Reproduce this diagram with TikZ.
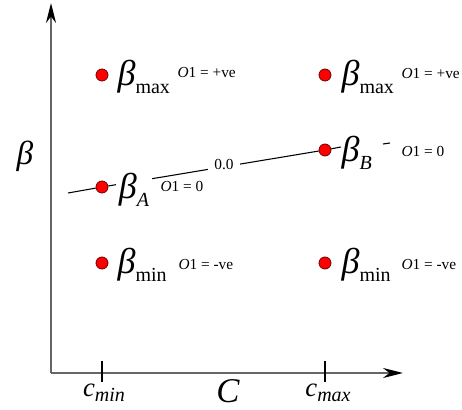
\documentclass[tikz,border=0pt]{standalone}
\usepackage{fontspec}
\setmainfont{Liberation Serif}
\usetikzlibrary{arrows.meta,positioning,backgrounds}
\newcommand{\bsym}[1]{{\itshape β}\raisebox{-6pt}{\fontsize{15}{17}\selectfont #1}}

\begin{document}
\begin{tikzpicture}[x=0.75pt,y=-0.75pt,
  dot/.style={circle,draw=red!45!black,fill=red,line width=0.6pt,minimum size=9pt,inner sep=0pt},
  blbl/.style={inner sep=1pt,font=\fontsize{27}{30}\selectfont},
  olbl/.style={inner sep=1pt,font=\fontsize{11.5}{13}\selectfont},
  axis/.style={line width=1.3pt,draw=black!60,-{Stealth[length=15pt,width=7.5pt,color=black]}}]

\useasboundingbox (0,0) rectangle (462,410);

% axes
\coordinate (orig) at (51,373);
\coordinate (ytop) at (51,3);
\coordinate (xend) at (403,373);
\draw[axis] (orig) -- (ytop);
\draw[axis] (orig) -- (xend);

\coordinate (tmin) at (102,373);
\coordinate (tmax) at (325,373);
\draw[line width=0.8pt] ([yshift=9pt]tmin) -- ([yshift=-7pt]tmin);
\draw[line width=0.8pt] ([yshift=9pt]tmax) -- ([yshift=-7pt]tmax);

\node[font=\fontsize{20}{24}\selectfont\itshape,inner sep=0pt] (cmin) at (104,393) {c\raisebox{-4pt}{\fontsize{15}{17}\selectfont min}};
\node[font=\fontsize{26}{30}\selectfont\itshape,inner sep=0pt] (clbl) at (228,391) {C};
\node[font=\fontsize{20}{24}\selectfont\itshape,inner sep=0pt] (cmax) at (328,393) {c\raisebox{-4pt}{\fontsize{15}{17}\selectfont max}};
\node[font=\fontsize{25}{28}\selectfont\itshape,inner sep=0pt] (blbl) at (25,156) {β};

% points
\node[dot] (tl) at (102,75) {};
\node[dot] (tr) at (325,75) {};
\node[dot] (bA) at (102,187) {};
\node[dot] (bB) at (325,150) {};
\node[dot] (bl) at (102,263) {};
\node[dot] (br) at (325,263) {};

\node[blbl,anchor=west] (tlb) at (116,77) {\bsym{max}};
\node[blbl,anchor=west] (trb) at (340,77) {\bsym{max}};
\node[blbl,anchor=west] (blb) at (116,265) {\bsym{min}};
\node[blbl,anchor=west] (brb) at (340,265) {\bsym{min}};
\node[blbl,anchor=west,fill=white,inner xsep=2pt,inner ysep=3pt] (bAb) at (116,190) {\bsym{\itshape A}};
\node[blbl,anchor=west] (bBb) at (340,153) {\bsym{\itshape B}};

\node[olbl,anchor=west] (tlo) at (176,73) {\textit{O}1 = +ve};
\node[olbl,anchor=west] (tro) at (400,74) {\textit{O}1 = +ve};
\node[olbl,anchor=west] (blo) at (177,264) {\textit{O}1 = -ve};
\node[olbl,anchor=west] (bro) at (400,264) {\textit{O}1 = -ve};
\node[olbl,anchor=west] (bAo) at (159,186) {\textit{O}1 = 0};
\node[olbl,anchor=west] (bBo) at (400,151) {\textit{O}1 = 0};

\coordinate (lstart) at (68,193);
\coordinate (lend) at (341,147);
\begin{scope}[on background layer]
\draw[line width=0.8pt] (lstart) -- (bA) -- node[pos=0.55,fill=white,olbl,inner xsep=5pt,inner ysep=4pt,yshift=2pt] (mid) {0.0} (bB) -- (lend);
\end{scope}
\draw[line width=0.8pt] (383,144) -- (390,143);

\end{tikzpicture}
\end{document}
